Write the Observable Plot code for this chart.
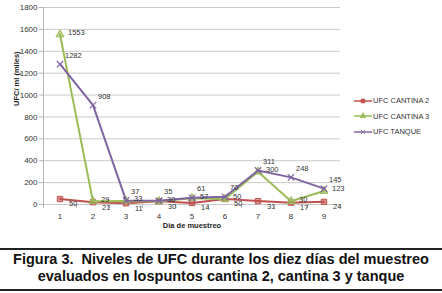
<!DOCTYPE html>
<html>
<head>
<meta charset="utf-8">
<script src="https://cdn.jsdelivr.net/npm/d3@7"></script>
<script src="https://cdn.jsdelivr.net/npm/@observablehq/plot@0.6"></script>
<style>
  html, body { margin: 0; padding: 0; background: #fff; }
  #wrap { position: relative; width: 442px; height: 293px; overflow: hidden; font-family: "Liberation Sans", Arial, sans-serif; }
  #legend { position: absolute; left: 354px; top: 93px; font-size: 7.5px; color: #333; }
  #legend .item { display: flex; align-items: center; height: 15.5px; }
  #legend svg { margin-right: 1px; }
  #title { position: absolute; left: 0; top: 248px; width: 442px; height: 38px; border-top: 2px solid #222; border-bottom: 2px solid #222; text-align: center; font-weight: bold; font-size: 14.5px; line-height: 17px; padding: 1px 0 0 0; color: #111; white-space: nowrap; }
</style>
</head>
<body>
<div id="wrap">
  <div id="chart"></div>
  <div id="legend"></div>
  <div id="title">Figura 3.&nbsp; Niveles de UFC durante los diez días del muestreo<br>evaluados en lospuntos cantina 2, cantina 3 y tanque</div>
</div>
<script>
const days = [1, 2, 3, 4, 5, 6, 7, 8, 9];
const seriesNames = ["UFC CANTINA 2", "UFC CANTINA 3", "UFC TANQUE"];
const cantina2 = [50, 21, 11, 30, 14, 50, 31, 17, 24];
const cantina3 = [1553, 29, 33, 30, 57, 50, 300, 30, 123];
const tanque = [1282, 908, 37, 35, 61, 70, 311, 248, 145];
const yTicks = [0, 200, 400, 600, 800, 1000, 1200, 1400, 1600, 1800];
const colors = ["#C0504D", "#9BBB59", "#8064A2"];
const symbols = ["square", "triangle", "times"];
const labelDx = [9, 8, 5];
const labelDy = [5, -2, -9];

const values = [cantina2, cantina3, tanque];
const rows = [];
values.forEach((vals, si) => vals.forEach((v, i) => rows.push({ day: days[i], value: v, series: seriesNames[si] })));
const bounds = days.map(d => d - 0.5).concat([days[days.length - 1] + 0.5]);

const marks = [
  Plot.ruleY(yTicks, { x1: bounds[0], x2: bounds[bounds.length - 1], stroke: "#c9c9c9", strokeWidth: 1 }),
  Plot.ruleX([bounds[0]], { y1: 0, y2: 1800, stroke: "#b5b5b5" }),
  Plot.axisY({ ticks: yTicks, tickSize: 4, tickPadding: 2, fontSize: 8, stroke: "#b5b5b5", color: "#333", label: null, tickFormat: d => String(d) }),
  Plot.axisX({ ticks: bounds, tickSize: 4, tickFormat: () => "", stroke: "#b5b5b5", label: null }),
  Plot.axisX({ ticks: days, tickSize: 0, tickPadding: 9, fontSize: 8, color: "#333", label: null, tickFormat: d => String(d) }),
  Plot.text(["UFC/ ml (miles)"], { frameAnchor: "left", dx: -27, rotate: -90, fontSize: 7.5, fontWeight: "bold", fill: "#222" }),
  Plot.text(["Dia de muestreo"], { frameAnchor: "bottom", dy: 23, fontSize: 7.5, fontWeight: "bold", fill: "#222" })
];
seriesNames.forEach((name, si) => {
  const data = rows.filter(r => r.series === name);
  marks.push(Plot.line(data, { x: "day", y: "value", stroke: colors[si], strokeWidth: 2 }));
  marks.push(Plot.dot(data, { x: "day", y: "value", symbol: symbols[si], r: 3, fill: si === 2 ? "none" : colors[si], stroke: colors[si], fillOpacity: 0.6, strokeWidth: si === 2 ? 1.2 : 1 }));
});
seriesNames.forEach((name, si) => {
  const data = rows.filter(r => r.series === name);
  marks.push(Plot.text(data, { x: "day", y: "value", text: d => String(d.value), textAnchor: "start", dx: labelDx[si], dy: labelDy[si], fontSize: 7.5, fill: "#333" }));
});

const chart = Plot.plot({
  width: 442,
  height: 240,
  marginLeft: 43,
  marginRight: 102,
  marginTop: 7,
  marginBottom: 36,
  style: { fontFamily: "Liberation Sans, Arial, sans-serif", background: "#fff" },
  x: { type: "linear", domain: [bounds[0], bounds[bounds.length - 1]] },
  y: { domain: [0, 1800] },
  marks
});
document.getElementById("chart").appendChild(chart);

const legend = document.getElementById("legend");
seriesNames.forEach((name, si) => {
  const item = document.createElement("div");
  item.className = "item";
  const s = d3.create("svg").attr("width", 18).attr("height", 8);
  s.append("line").attr("x1", 0).attr("x2", 18).attr("y1", 4).attr("y2", 4).attr("stroke", colors[si]).attr("stroke-width", 1.5);
  s.append("path").attr("transform", "translate(9,4)").attr("d", d3.symbol(si === 0 ? d3.symbolSquare : si === 1 ? d3.symbolTriangle : d3.symbolTimes, 14)()).attr("fill", si === 2 ? "none" : colors[si]).attr("stroke", colors[si]).attr("stroke-width", 0.8);
  item.appendChild(s.node());
  const t = document.createElement("span");
  t.textContent = name;
  item.appendChild(t);
  legend.appendChild(item);
});
</script>
</body>
</html>
